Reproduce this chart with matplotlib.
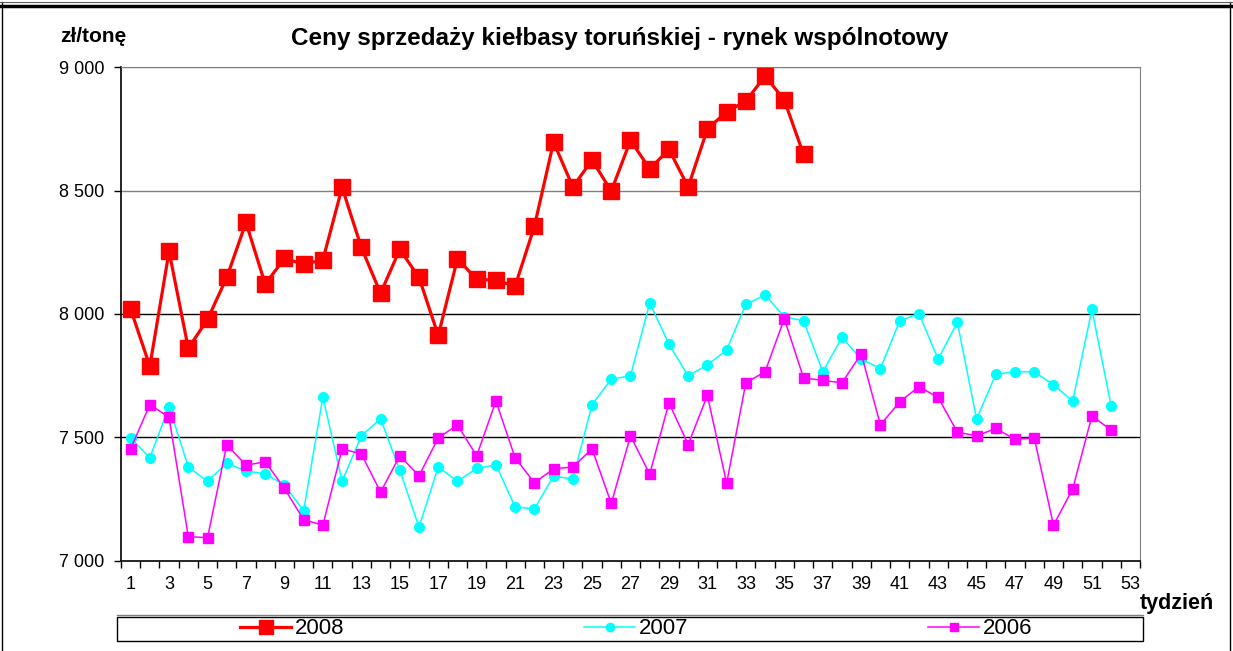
import numpy as np
import matplotlib.pyplot as plt
from matplotlib.lines import Line2D
from matplotlib.patches import Rectangle
from matplotlib.ticker import FuncFormatter

plt.rcParams['font.family'] = ['Liberation Sans', 'DejaVu Sans']

# weekly prices, zl/tonne
weeks_2008 = np.arange(1, 37)
price_2008 = [8020, 7788, 8254, 7861, 7978, 8148, 8371, 8121, 8225, 8202,
              8219, 8513, 8270, 8084, 8262, 8148, 7913, 8224, 8140, 8137,
              8113, 8355, 8697, 8515, 8624, 8498, 8704, 8588, 8667, 8515,
              8750, 8820, 8863, 8965, 8867, 8647]

weeks_full = np.arange(1, 53)
price_2007 = [7498, 7417, 7625, 7380, 7322, 7395, 7364, 7352, 7307, 7202,
              7663, 7322, 7506, 7575, 7367, 7136, 7380, 7322, 7374, 7389,
              7218, 7210, 7343, 7331, 7632, 7736, 7749, 8045, 7878, 7749,
              7794, 7854, 8039, 8077, 7989, 7972, 7766, 7905, 7817, 7779,
              7972, 8002, 7817, 7966, 7574, 7756, 7766, 7766, 7713, 7647,
              8019, 7627]
price_2006 = [7453, 7633, 7581, 7098, 7093, 7470, 7387, 7401, 7293, 7166,
              7144, 7453, 7433, 7278, 7425, 7344, 7498, 7550, 7425, 7647,
              7417, 7316, 7372, 7380, 7453, 7232, 7506, 7351, 7640, 7471,
              7670, 7314, 7721, 7766, 7981, 7741, 7731, 7721, 7839, 7550,
              7644, 7705, 7662, 7521, 7506, 7536, 7492, 7498, 7144, 7291,
              7587, 7529]

y_ticks = [7000, 7500, 8000, 8500, 9000]
x_ticks = list(range(1, 54, 2))

W, H = 1233, 651
fig = plt.figure(figsize=(W / 100, H / 100), dpi=100)
ax = fig.add_axes([121 / W, 1 - 560.7 / H, (1140 - 121) / W, (560.7 - 67.3) / H])

# gridlines
for v in y_ticks[1:]:
    ax.axhline(v, color='#808080' if v >= 8500 else 'black', lw=1.0, zorder=1)

ax.plot(weeks_full, price_2007, color='#00FFFF', lw=1.1, marker='o', ms=7,
        mec='#00FFFF', mfc='#00FFFF', label='2007', zorder=3)
ax.plot(weeks_full, price_2006, color='#FF00FF', lw=1.1, marker='s', ms=7,
        mec='#FF00FF', mfc='#FF00FF', label='2006', zorder=4)
ax.plot(weeks_2008, price_2008, color='#FF0000', lw=2.3, marker='s', ms=12,
        mec='#FF0000', mfc='#FF0000', label='2008', zorder=5)

ax.set_xlim(0.5, 53.5)
ax.set_ylim(7000, 9000)
ax.set_xticks(x_ticks)
ax.set_xticks(np.arange(0.5, 54, 1), minor=True)
ax.set_yticks(y_ticks)
ax.yaxis.set_major_formatter(FuncFormatter(lambda v, p: f"{int(v):,}".replace(',', ' ')))
ax.tick_params(axis='x', which='major', length=0, pad=11, labelsize=13)
ax.tick_params(axis='x', which='minor', length=5, width=1, direction='out')
ax.tick_params(axis='y', length=5, width=1, direction='out', pad=7, labelsize=13)

for s in ['top', 'right']:
    ax.spines[s].set_color('#808080')
for s in ['left', 'bottom']:
    ax.spines[s].set_color('black')
    ax.spines[s].set_linewidth(1.2)

fig.text(620 / W, 1 - 38 / H, 'Ceny sprzedaży kiełbasy toruńskiej - rynek wspólnotowy',
         ha='center', va='center', fontsize=17.5, fontweight='bold')
fig.text(93 / W, 1 - 36 / H, 'zł/tonę', ha='center', va='center', fontsize=15, fontweight='bold')
fig.text(1177 / W, 1 - 603 / H, 'tydzień', ha='center', va='center', fontsize=15.5, fontweight='bold')

# legend with its own frame
fig.add_artist(Rectangle((117 / W, 1 - 641 / H), (1143 - 117) / W, 24 / H,
                         transform=fig.transFigure, fill=False, ec='black', lw=1.0))
fig.add_artist(Line2D([117 / W, 1143 / W], [1 - 615 / H, 1 - 615 / H],
                      transform=fig.transFigure, color='#808080', lw=1.0))
handles = [Line2D([], [], color='#FF0000', lw=2.3, marker='s', ms=10),
           Line2D([], [], color='#00FFFF', lw=1.1, marker='o', ms=6),
           Line2D([], [], color='#FF00FF', lw=1.1, marker='s', ms=6)]
fig.legend(handles, ['2008', '2007', '2006'], loc='center', ncol=3,
           bbox_to_anchor=(636 / W, 1 - 629 / H), frameon=False, fontsize=16,
           handlelength=2.3, handletextpad=0.15, columnspacing=10.8, borderpad=0)

# outer frame
fig.add_artist(Line2D([2 / W, 2 / W], [0, 1 - 2 / H], transform=fig.transFigure, color='black', lw=1))
fig.add_artist(Line2D([1230 / W, 1230 / W], [0, 1 - 2 / H], transform=fig.transFigure, color='black', lw=1))
fig.add_artist(Line2D([0, 1], [1 - 1.5 / H, 1 - 1.5 / H], transform=fig.transFigure, color='#606060', lw=0.8))
fig.add_artist(Line2D([0, 1], [1 - 5.5 / H, 1 - 5.5 / H], transform=fig.transFigure, color='black', lw=2.5))

fig.savefig('out.png', dpi=100)
